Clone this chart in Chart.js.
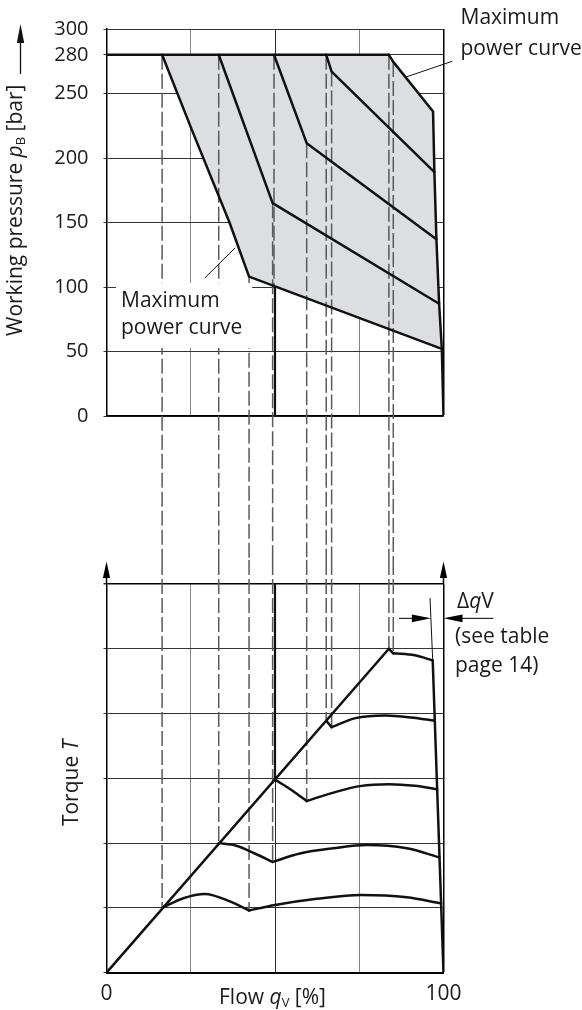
<!DOCTYPE html>
<html><head><meta charset="utf-8">
<script src="https://cdn.jsdelivr.net/npm/chart.js@4.4.1/dist/chart.umd.min.js"></script>
<style>
html,body{margin:0;padding:0;background:#fff;}
#wrap{position:relative;width:582px;height:1010px;overflow:hidden;background:#fff;}
canvas{position:absolute;left:0;}
#cTop{top:0;width:582px;height:560px;}
#cBot{top:560px;width:582px;height:450px;}
</style></head><body>
<div id="wrap"><canvas id="cTop" width="582" height="560"></canvas><canvas id="cBot" width="582" height="450"></canvas></div>
<script>
// ---------- data (flow %, value) ----------
const flowTicks = [0, 25, 50, 75, 100];
const flowLabels = ['0', '100'];
const pressureTicks = [0, 50, 100, 150, 200, 250, 280, 300];
const torqueLevels = [0, 1, 2, 3, 4, 5, 6];

// working pressure [bar] vs flow [%]
const maxPressureLine = [[0, 280], [83.8, 280]];
const curveA = [[16.5, 280], [25.3, 222], [36.5, 150], [42.3, 108], [99.5, 52]];
const curveB = [[33.3, 280], [49.3, 165], [98.7, 87]];
const curveC = [[49.7, 280], [59.4, 211.5], [97.9, 137]];
const curveD = [[65.2, 280], [66.8, 267], [97.3, 189]];
const curveE = [[83.8, 280], [85.1, 274.5], [96.9, 236], [97.3, 189], [97.9, 137], [98.7, 87], [99.5, 52], [100, 0]];
const solidProjTop = [[50, 100], [50, 0]];

// torque (grid levels) vs flow [%]
const torqueDiagonal = [[0, 0], [83.8, 5.0]];
const torque1a = [[16.5, 1.0], [22.8, 1.15], [29.2, 1.215], [36.6, 1.10], [42.3, 0.96]];
const torque1b = [[42.3, 0.96], [50, 1.045], [62.4, 1.14], [75.5, 1.2], [89.1, 1.165], [99.3, 1.07]];
const torque2a = [[33.3, 2.0], [38.5, 1.96], [44, 1.84], [49.3, 1.71]];
const torque2b = [[49.3, 1.71], [57.4, 1.84], [67.3, 1.92], [77.2, 1.97], [89.1, 1.92], [98.8, 1.78]];
const torque3a = [[50, 2.98], [55.2, 2.81], [59.4, 2.65]];
const torque3b = [[59.4, 2.65], [67.3, 2.78], [75.2, 2.88], [83.8, 2.91], [91.5, 2.885], [98.1, 2.83]];
const torque4a = [[65.2, 3.89], [66.8, 3.79]];
const torque4b = [[66.8, 3.79], [73.9, 3.93], [82.7, 3.97], [90.4, 3.94], [97.4, 3.89]];
const torque5a = [[83.8, 5.0], [85.1, 4.93]];
const torque5b = [[85.1, 4.93], [91.5, 4.9], [96.8, 4.82]];
const torqueEnd = [[96.8, 4.82], [100, 0]];
const torqueEndExt = [[96.0, 5.78], [96.8, 4.82]];
const solidProjBot = [[50, 6], [50, 2.98]];

// dashed projection lines: flow, start pressure, end torque (null = stops at 100 bar)
const projFlow  = [16.5, 33.3, 42.3, 49.3, 49.7, 59.4, 65.2, 66.8, 83.8, 85.1];
const projFromP = [280, 280, 108, 165, 280, 211.5, 280, 267, 280, 274.5];
const projToT   = [1.0, 2.0, 0.96, 1.71, null, 2.65, 3.89, 3.79, 5.0, 4.93];

// delta qV marker
const dqLevel = 5.47;
const dqArrowRight = [86.8, 96.26];
const dqArrowLeft = [100, 114.8];

// ---------- styles ----------
const FONT = "'Open Sans', 'Noto Sans', sans-serif";
const INK = '#1a1a1a';
const SHADE = 'rgb(221,222,225)';
Chart.defaults.font.family = FONT;
Chart.defaults.color = INK;
const fnt = (size, style) => (style ? style + ' ' : '') + size + 'px ' + FONT;

const toPts = arr => arr.map(([x, y]) => ({x, y}));
function lineDs(arr, opts) {
  return Object.assign({data: toPts(arr), borderColor: '#111', borderWidth: 2.5, pointRadius: 0,
    fill: false, tension: 0, order: 0, borderCapStyle: 'round', borderJoinStyle: 'round'}, opts || {});
}
const smooth = {cubicInterpolationMode: 'monotone'};

function richWidth(ctx, parts) {
  let w = 0;
  for (const p of parts) { ctx.font = p.font; w += ctx.measureText(p.t).width; }
  return w;
}
function drawRich(ctx, parts, x, y) {
  let cx = x;
  for (const p of parts) {
    ctx.font = p.font; ctx.fillText(p.t, cx, y + (p.dy || 0));
    cx += ctx.measureText(p.t).width;
  }
  return cx;
}
function tri(ctx, pts) {
  ctx.beginPath(); ctx.moveTo(pts[0][0], pts[0][1]);
  for (let i = 1; i < pts.length; i++) ctx.lineTo(pts[i][0], pts[i][1]);
  ctx.closePath(); ctx.fill();
}
const gridXColor = v => v === 100 || v === 0 ? '#000' : (v === 50 ? '#2a2a2a' : '#858585');

// ---------- top chart ----------
const shadeUpper = [curveA[0], ...curveE.slice(0, -1)];
const shadeLower = curveA;

const topPlugin = {
  id: 'topDecor',
  beforeDatasetsDraw(chart) {
    const {ctx, scales: {x, y}} = chart;
    ctx.save();
    ctx.strokeStyle = '#5a5a5a'; ctx.lineWidth = 1.5; ctx.setLineDash([15, 4]);
    projFlow.forEach((q, i) => {
      const px = x.getPixelForValue(q);
      const y0 = y.getPixelForValue(projFromP[i]);
      const y1 = projToT[i] === null ? y.getPixelForValue(100) : chart.height;
      ctx.beginPath(); ctx.moveTo(px, y0); ctx.lineTo(px, y1); ctx.stroke();
    });
    ctx.restore();
  },
  afterDatasetsDraw(chart) {
    const {ctx, scales: {x, y}} = chart;
    ctx.save();
    // white box behind lower label
    ctx.fillStyle = '#fff';
    const bx0 = x.getPixelForValue(2.8), bx1 = x.getPixelForValue(43.2);
    const by0 = y.getPixelForValue(103), by1 = y.getPixelForValue(52.7);
    ctx.fillRect(bx0, by0, bx1 - bx0, by1 - by0);
    // leader lines
    ctx.strokeStyle = '#111'; ctx.lineWidth = 1;
    ctx.beginPath();
    ctx.moveTo(x.getPixelForValue(88.9), y.getPixelForValue(262.8));
    ctx.lineTo(x.getPixelForValue(102.6), y.getPixelForValue(275));
    ctx.moveTo(x.getPixelForValue(38.2), y.getPixelForValue(130.4));
    ctx.lineTo(x.getPixelForValue(29.2), y.getPixelForValue(107.1));
    ctx.stroke();
    // labels
    ctx.fillStyle = INK; ctx.font = fnt(21); ctx.textBaseline = 'alphabetic'; ctx.textAlign = 'left';
    ctx.fillText('Maximum', 460.5, 24);
    ctx.fillText('power curve', 460.5, 55);
    ctx.fillText('Maximum', 121, 306.5);
    ctx.fillText('power curve', 121, 334);
    // y title
    ctx.save();
    ctx.translate(22, 336); ctx.rotate(-Math.PI / 2);
    drawRich(ctx, [
      {t: 'Working pressure ', font: fnt(21)},
      {t: 'p', font: fnt(21, 'italic')},
      {t: 'B', font: fnt(13), dy: 3},
      {t: ' [bar]', font: fnt(21)}
    ], 0, 0);
    ctx.restore();
    ctx.strokeStyle = '#111'; ctx.lineWidth = 1.3;
    ctx.beginPath(); ctx.moveTo(20.5, 74); ctx.lineTo(20.5, 40); ctx.stroke();
    ctx.fillStyle = '#111';
    tri(ctx, [[20.5, 24], [16.8, 43], [24.2, 43]]);
    ctx.restore();
  }
};

new Chart(document.getElementById('cTop'), {
  type: 'line',
  data: {datasets: [
    {data: toPts(shadeUpper), borderWidth: 0, pointRadius: 0, fill: '+1', backgroundColor: SHADE, order: 20},
    {data: toPts(shadeLower), borderWidth: 0, pointRadius: 0, fill: false, order: 21},
    lineDs(maxPressureLine), lineDs(curveA), lineDs(curveB), lineDs(curveC), lineDs(curveD), lineDs(curveE),
    lineDs(solidProjTop, {borderWidth: 2.2, borderCapStyle: 'butt'})
  ]},
  options: {
    responsive: false, animation: false, devicePixelRatio: 1, events: [],
    layout: {padding: {left: 0, right: 138.5, top: 29, bottom: 144}},
    plugins: {legend: {display: false}, tooltip: {enabled: false},
      filler: {drawTime: 'beforeDatasetsDraw', propagate: false}},
    scales: {
      x: {type: 'linear', min: 0, max: 100, afterFit: s => { s.height = 0; },
        afterBuildTicks: s => { s.ticks = flowTicks.map(v => ({value: v})); },
        ticks: {display: false},
        grid: {drawTicks: false, color: c => gridXColor(c.tick.value), lineWidth: c => c.tick.value === 100 ? 1.5 : 1},
        border: {color: '#000', width: 1.5}},
      y: {type: 'linear', min: 0, max: 300, afterFit: s => { s.width = 106.5; },
        afterBuildTicks: s => { s.ticks = pressureTicks.map(v => ({value: v})); },
        ticks: {padding: 15, font: {size: 20}, color: INK},
        grid: {color: '#333', lineWidth: 1, tickLength: 3, tickColor: '#333'},
        border: {color: '#000', width: 1.5}}
    }
  },
  plugins: [topPlugin]
});

// ---------- bottom chart ----------
const botPlugin = {
  id: 'botDecor',
  beforeDatasetsDraw(chart) {
    const {ctx, scales: {x, y}} = chart;
    ctx.save();
    ctx.strokeStyle = '#5a5a5a'; ctx.lineWidth = 1.5; ctx.setLineDash([15, 4]);
    projFlow.forEach((q, i) => {
      if (projToT[i] === null) return;
      const px = x.getPixelForValue(q);
      ctx.beginPath(); ctx.moveTo(px, 0); ctx.lineTo(px, y.getPixelForValue(projToT[i])); ctx.stroke();
    });
    ctx.restore();
  },
  afterDatasetsDraw(chart) {
    const {ctx, chartArea: a, scales: {x, y}} = chart;
    ctx.save();
    ctx.strokeStyle = '#000'; ctx.fillStyle = '#000'; ctx.lineWidth = 1.5;
    // axis arrows
    [a.left, a.right].forEach(px => {
      ctx.beginPath(); ctx.moveTo(px, a.top); ctx.lineTo(px, 16); ctx.stroke();
      tri(ctx, [[px, 1.5], [px - 3.6, 18], [px + 3.6, 18]]);
    });
    // delta qV arrows
    const ya = y.getPixelForValue(dqLevel);
    ctx.lineWidth = 1;
    const r0 = x.getPixelForValue(dqArrowRight[0]), r1 = x.getPixelForValue(dqArrowRight[1]);
    ctx.beginPath(); ctx.moveTo(r0, ya); ctx.lineTo(r1 - 10, ya); ctx.stroke();
    tri(ctx, [[r1, ya], [r1 - 19, ya - 3.8], [r1 - 19, ya + 3.8]]);
    const l0 = x.getPixelForValue(dqArrowLeft[0]), l1 = x.getPixelForValue(dqArrowLeft[1]);
    ctx.beginPath(); ctx.moveTo(l0 + 10, ya); ctx.lineTo(l1, ya); ctx.stroke();
    tri(ctx, [[l0, ya], [l0 + 19, ya - 3.8], [l0 + 19, ya + 3.8]]);
    // texts
    ctx.fillStyle = INK; ctx.textBaseline = 'alphabetic'; ctx.textAlign = 'left';
    drawRich(ctx, [{t: '\u0394', font: fnt(21)}, {t: 'q', font: fnt(21, 'italic')}, {t: 'V', font: fnt(21)}], 457, 48);
    ctx.font = fnt(21);
    ctx.fillText('(see table', 455, 83);
    ctx.fillText('page 14)', 455, 111.5);
    // x title
    const xt = [{t: 'Flow ', font: fnt(21)}, {t: 'q', font: fnt(21, 'italic')}, {t: 'V', font: fnt(13), dy: 3}, {t: ' [%]', font: fnt(21)}];
    drawRich(ctx, xt, 272.5 - richWidth(ctx, xt) / 2, 444);
    // y title
    const yt = [{t: 'Torque ', font: fnt(21)}, {t: 'T', font: fnt(21, 'italic')}];
    const w = richWidth(ctx, yt);
    ctx.save(); ctx.translate(78, 223 + w / 2); ctx.rotate(-Math.PI / 2);
    drawRich(ctx, yt, 0, 0);
    ctx.restore();
    ctx.restore();
  }
};

new Chart(document.getElementById('cBot'), {
  type: 'line',
  data: {datasets: [
    lineDs(torqueDiagonal),
    lineDs(torque1a, smooth), lineDs(torque1b, smooth),
    lineDs(torque2a, smooth), lineDs(torque2b, smooth),
    lineDs(torque3a, smooth), lineDs(torque3b, smooth),
    lineDs(torque4a), lineDs(torque4b, smooth),
    lineDs(torque5a), lineDs(torque5b, smooth),
    lineDs(torqueEnd),
    lineDs(torqueEndExt, {borderWidth: 1}),
    lineDs(solidProjBot, {borderWidth: 2.2, borderCapStyle: 'butt'})
  ]},
  options: {
    responsive: false, animation: false, devicePixelRatio: 1, events: [],
    layout: {padding: {left: 0, right: 138.5, top: 24, bottom: 0}},
    plugins: {legend: {display: false}, tooltip: {enabled: false}},
    scales: {
      x: {type: 'linear', min: 0, max: 100, afterFit: s => { s.height = 37.3; },
        afterBuildTicks: s => { s.ticks = flowTicks.map(v => ({value: v})); },
        ticks: {padding: 9, font: {size: 21}, color: INK, maxRotation: 0, autoSkip: false,
          callback: v => flowLabels.includes(String(v)) ? String(v) : ''},
        grid: {drawTicks: false, color: c => gridXColor(c.tick.value), lineWidth: c => c.tick.value === 100 ? 1.5 : 1},
        border: {color: '#000', width: 2}},
      y: {type: 'linear', min: 0, max: 6, afterFit: s => { s.width = 106.5; },
        afterBuildTicks: s => { s.ticks = torqueLevels.map(v => ({value: v})); },
        ticks: {display: false},
        grid: {color: c => c.tick.value === 6 ? '#000' : '#333', lineWidth: c => c.tick.value === 6 ? 1.5 : 1,
          tickLength: 3, tickColor: '#333'},
        border: {color: '#000', width: 1.5}}
    }
  },
  plugins: [botPlugin]
});
</script></body></html>
